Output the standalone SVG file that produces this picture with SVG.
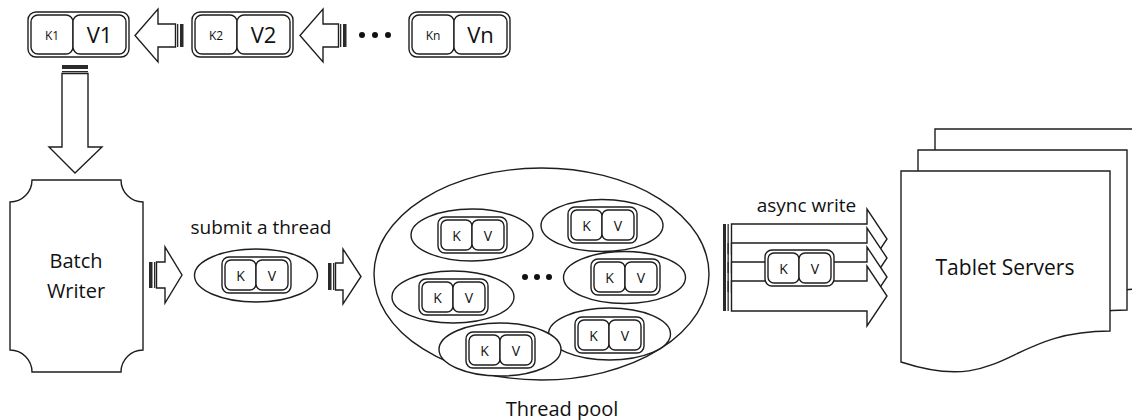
<svg xmlns="http://www.w3.org/2000/svg" xmlns:xlink="http://www.w3.org/1999/xlink" width="1132" height="420" viewBox="0 0 1132 420">
<style>
.ln{fill:#fff;stroke:#1e1e1e;stroke-width:1.4;}
.bar{fill:#2a2a2a;stroke:none;}
.t{font-family:"Open Sans","Noto Sans","Liberation Sans",sans-serif;fill:#111;}
.lbl{font-size:19px;}
.big{font-size:20px;}
.ks{font-size:14px;text-anchor:middle;}
.kt{font-size:12px;text-anchor:middle;}
.vt{font-size:22px;text-anchor:middle;}
.c{text-anchor:middle;}
</style>
<defs>
<g id="kv">
<rect class="ln" x="0" y="0" width="69" height="36" rx="7"/>
<rect class="ln" x="3" y="3" width="31" height="30" rx="6"/>
<rect class="ln" x="34" y="3" width="32" height="30" rx="6"/>
<text class="t ks" x="18.5" y="23.5">K</text>
<text class="t ks" x="50" y="23.5">V</text>
</g>
</defs>
<rect width="1132" height="420" fill="#fff"/>

<!-- top row -->
<g id="kv1">
<rect class="ln" x="28" y="12" width="101" height="45" rx="8"/>
<rect class="ln" x="31" y="15" width="42" height="39" rx="7"/>
<rect class="ln" x="73" y="15" width="53" height="39" rx="7"/>
<text class="t kt" x="52" y="40">K1</text>
<text class="t vt" x="99.5" y="43">V1</text>
</g>
<g id="kv2">
<rect class="ln" x="192" y="12" width="101" height="45" rx="8"/>
<rect class="ln" x="195" y="15" width="42" height="39" rx="7"/>
<rect class="ln" x="237" y="15" width="53" height="39" rx="7"/>
<text class="t kt" x="216" y="40">K2</text>
<text class="t vt" x="263.5" y="43">V2</text>
</g>
<g id="dots-top">
<circle cx="362" cy="35" r="3" fill="#111"/>
<circle cx="375" cy="35" r="3" fill="#111"/>
<circle cx="388" cy="35" r="3" fill="#111"/>
</g>
<g id="kvn">
<rect class="ln" x="409" y="12" width="101" height="45" rx="8"/>
<rect class="ln" x="412" y="15" width="42" height="39" rx="7"/>
<rect class="ln" x="454" y="15" width="53" height="39" rx="7"/>
<text class="t kt" x="433" y="40">Kn</text>
<text class="t vt" x="480.5" y="43">Vn</text>
</g>

<!-- batch writer -->
<g id="batch-writer">
<path class="ln" d="M32,180 H121 A22,22 0 0 0 143,202 V350 A22,22 0 0 0 121,372 H32 A22,22 0 0 0 10,350 V202 A22,22 0 0 0 32,180 Z"/>
<text class="t big c" x="76" y="268">Batch</text>
<text class="t big c" x="76" y="298">Writer</text>
</g>

<!-- submit thread -->
<g id="submit-thread">
<ellipse class="ln" cx="256" cy="275.5" rx="61.5" ry="26.5"/>
<use xlink:href="#kv" href="#kv" x="222" y="257"/>
</g>
<text class="t lbl c" x="261" y="234">submit a thread</text>

<!-- thread pool -->
<g id="thread-pool">
<ellipse class="ln" cx="541.5" cy="274" rx="167.5" ry="106"/>
<g id="th1"><ellipse class="ln" cx="472" cy="235" rx="61" ry="26"/><use xlink:href="#kv" href="#kv" x="438" y="217"/></g>
<g id="th2"><ellipse class="ln" cx="602" cy="225.5" rx="61" ry="26"/><use xlink:href="#kv" href="#kv" x="568" y="207"/></g>
<g id="th3"><ellipse class="ln" cx="624.5" cy="277.5" rx="61" ry="26"/><use xlink:href="#kv" href="#kv" x="591" y="259"/></g>
<g id="th4"><ellipse class="ln" cx="453" cy="297" rx="61" ry="26"/><use xlink:href="#kv" href="#kv" x="419" y="279"/></g>
<g id="th5"><ellipse class="ln" cx="609.5" cy="334" rx="61" ry="26"/><use xlink:href="#kv" href="#kv" x="575" y="317"/></g>
<g id="th6"><ellipse class="ln" cx="500" cy="349.5" rx="61" ry="26.5"/><use xlink:href="#kv" href="#kv" x="466" y="332"/></g>
<circle cx="525" cy="277" r="3" fill="#111"/>
<circle cx="537" cy="277" r="3" fill="#111"/>
<circle cx="549" cy="277" r="3" fill="#111"/>
<text class="t big c" x="562" y="416">Thread pool</text>
</g>

<!-- tablet servers -->
<g id="tablet-servers">
<path class="ln" d="M935,129 H1144 V289 C1039,289 1039,354 935,320 Z"/>
<path class="ln" d="M918,150 H1127 V310 C1022,310 1022,375 918,341 Z"/>
<path class="ln" d="M901,171 H1110 V331 C1005,331 1005,396 901,362 Z"/>
<text class="t c" font-size="21" x="1005" y="275">Tablet Servers</text>
</g>

<!-- connectors -->
<g id="connectors">
<g>
<rect class="bar" x="180" y="24" width="3.5" height="23"/>
<rect class="bar" x="177" y="24" width="1.3" height="23"/>
<path class="ln" d="M175.5,24 H158 V9 L135,35.5 L158,62 V47 H175.5 Z"/>
</g>
<g>
<rect class="bar" x="343" y="24" width="3.5" height="23"/>
<rect class="bar" x="340" y="24" width="1.3" height="23"/>
<path class="ln" d="M338.5,24 H323 V9 L300,35.5 L323,62 V47 H338.5 Z"/>
</g>
<g>
<rect class="bar" x="62" y="65" width="26" height="4"/>
<rect class="bar" x="62" y="71" width="26" height="1.3"/>
<path class="ln" d="M62,73.5 V147 H49 L75,173 L102,147 H88 V73.5 Z"/>
</g>
<g>
<rect class="bar" x="149" y="262" width="3.5" height="26"/>
<rect class="bar" x="154" y="262" width="1.3" height="26"/>
<path class="ln" d="M156.5,262 H165 V247 L182,275 L165,303 V288 H156.5 Z"/>
</g>
<g>
<rect class="bar" x="328" y="263" width="3.5" height="27"/>
<rect class="bar" x="333" y="263" width="1.3" height="27"/>
<path class="ln" d="M335.5,263 H343 V249 L361,276.5 L343,304 V290 H335.5 Z"/>
</g>
<g>
<rect class="bar" x="723" y="224" width="3" height="30"/>
<rect class="bar" x="727.5" y="224" width="1.3" height="30"/>
<path class="ln" d="M731.5,224 H867 V209 L887,239 L867,269 V254 H731.5 Z"/>
</g>
<g>
<rect class="bar" x="723" y="243" width="3" height="30"/>
<rect class="bar" x="727.5" y="243" width="1.3" height="30"/>
<path class="ln" d="M731.5,243 H867 V228 L887,258 L867,288 V273 H731.5 Z"/>
</g>
<g>
<rect class="bar" x="723" y="262" width="3" height="30"/>
<rect class="bar" x="727.5" y="262" width="1.3" height="30"/>
<path class="ln" d="M731.5,262 H867 V247 L887,277 L867,307 V292 H731.5 Z"/>
</g>
<g>
<rect class="bar" x="723" y="281" width="3" height="30"/>
<rect class="bar" x="727.5" y="281" width="1.3" height="30"/>
<path class="ln" d="M731.5,281 H867 V266 L887,296 L867,326 V311 H731.5 Z"/>
</g>
<use xlink:href="#kv" href="#kv" x="765" y="250"/>
<text class="t lbl c" x="806.5" y="212">async write</text>
</g>
</svg>
